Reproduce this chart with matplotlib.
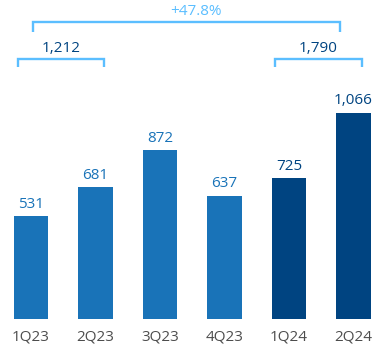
import matplotlib
matplotlib.use("Agg")
import matplotlib.pyplot as plt

categories = ["1Q23", "2Q23", "3Q23", "4Q23", "1Q24", "2Q24"]
values = [531, 681, 872, 637, 725, 1066]
value_labels = ["531", "681", "872", "637", "725", "1,066"]
is_2024 = [False, False, False, False, True, True]
half_totals = ["1,212", "1,790"]
growth_label = "+47.8%"

C23 = "#1973B8"
C24 = "#004481"
LIGHT = "#5BBEFF"
GRAY = "#4D4D4D"

plt.rcParams["font.family"] = ["Open Sans", "DejaVu Sans"]

W, H = 391, 353
fig = plt.figure(figsize=(W / 100, H / 100), dpi=100)
ax = fig.add_axes([0, 0, 1, 1])
ax.set_axis_off()

x0_px, step_px = 31.0, 64.5
base_px, scale = 34.3, 0.1934
ax.set_xlim(-x0_px / step_px, (W - x0_px) / step_px)
ax.set_ylim(-base_px / scale, (H - base_px) / scale)

def py(ypx_from_top):
    return (H - ypx_from_top - base_px) / scale

xs = list(range(len(categories)))
colors = [C24 if f else C23 for f in is_2024]
ax.bar(xs, values, width=0.535, color=colors)

for x, v, lab, c in zip(xs, values, value_labels, colors):
    ax.annotate(lab, (x, v), xytext=(0, 6), textcoords="offset points",
                ha="center", va="baseline", fontsize=11, color=c)
    ax.text(x, py(336.7), categories[x], ha="center", va="center",
            fontsize=11, color=GRAY)

def bracket(xa, xb, ytop, ybot, color):
    ax.plot([xa, xa, xb, xb], [ybot, ytop, ytop, ybot], color=color,
            lw=1.7, solid_joinstyle="miter", solid_capstyle="butt")

# half-year brackets
bracket(-0.206, 1.136, py(59.3), py(67.5), LIGHT)
bracket(3.783, 5.127, py(59.3), py(67.5), LIGHT)
ax.text(0.465, py(49), half_totals[0], ha="center", va="center", fontsize=11, color=C24)
ax.text(4.45, py(49), half_totals[1], ha="center", va="center", fontsize=11, color=C24)

# growth bracket
bracket(0.026, 4.79, py(21.7), py(31.7), LIGHT)
ax.text(2.55, py(11.7), growth_label, ha="center", va="center", fontsize=11, color=LIGHT)

fig.savefig("out.png", dpi=100)
